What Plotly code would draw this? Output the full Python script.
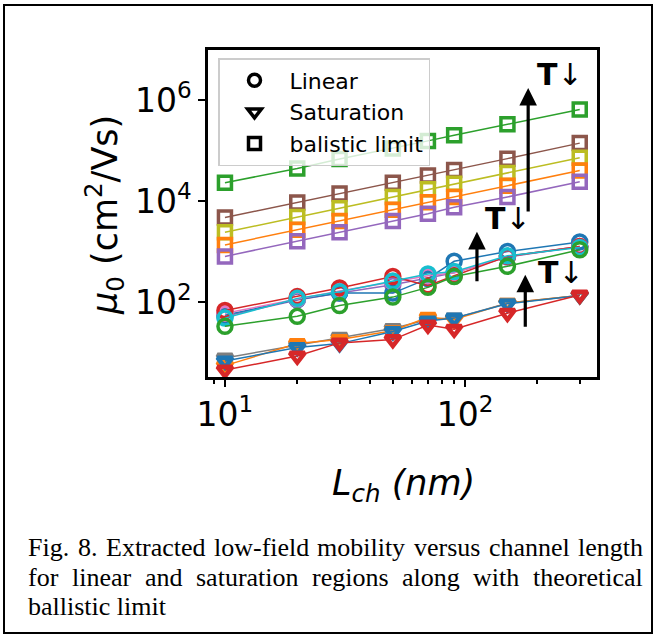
import math
import plotly.graph_objects as go

# ---------------- data ----------------
L_ch = [10, 20, 30, 50, 70, 90, 150, 300]

# ballistic limit (squares)
ball_green = [2.3e4, 4.4e4, 6.8e4, 1.1e5, 1.55e5, 2.0e5, 3.3e5, 6.5e5]
ball_brown = [4.7e3, 9.3e3, 1.4e4, 2.3e4, 3.2e4, 4.1e4, 6.9e4, 1.4e5]
ball_olive = [2.4e3, 4.8e3, 7.2e3, 1.2e4, 1.7e4, 2.2e4, 3.6e4, 7.2e4]
ball_orange = [1.35e3, 2.7e3, 4.0e3, 6.7e3, 9.4e3, 1.2e4, 2.0e4, 4.0e4]
ball_purple = [8.0e2, 1.6e3, 2.4e3, 4.0e3, 5.6e3, 7.5e3, 1.2e4, 2.4e4]

# linear region (circles)
lin_purple = [52, 110, 150, 220, 300, 380, 780, 1250]
lin_blue = [55, 112, 150, 150, 290, 640, 1000, 1550]
lin_pink = [60, 115, 165, 250, 330, 380, 800, 1250]
lin_red = [68, 128, 190, 320, 210, 330, 800, 1250]
lin_cyan = [48, 118, 160, 260, 360, 400, 820, 1200]
lin_green = [33, 52, 85, 125, 195, 320, 510, 1080]

# saturation region (triangles)
sat_gray = [7.8, 14, 20, 30, 45, 48, 95, 135]
sat_orange = [5.5, 15, 18, 27, 50, 45, 95, 135]
sat_blue = [6.8, 12.5, 15, 26, 42, 48, 92, 135]
sat_red = [4.5, 8.5, 15.5, 18, 35, 29, 60, 138]

legend_labels = ["Linear", "Saturation", "balistic limit"]
x_tick_vals = [10, 100]
x_tick_text = ["10<sup>1</sup>", "10<sup>2</sup>"]
y_tick_vals = [1e2, 1e4, 1e6]
y_tick_text = ["10<sup>2</sup>", "10<sup>4</sup>", "10<sup>6</sup>"]
x_minor = [9, 20, 30, 40, 50, 60, 70, 80, 90, 200, 300]

caption_line1 = "Fig. 8. Extracted low-field mobility versus channel length"
caption_line2 = "for linear and saturation regions along with theoretical"
caption_line3 = "ballistic limit"

C = dict(blue="#1f77b4", orange="#ff7f0e", green="#2ca02c", red="#d62728",
         purple="#9467bd", brown="#8c564b", pink="#e377c2", gray="#7f7f7f",
         olive="#bcbd22", cyan="#17becf")

# ---------------- geometry ----------------
W, H = 656, 637
PL, PR, PT, PB = 208, 597, 50, 377


def px(xp):
    return (xp - PL) / (PR - PL)


def py(yp):
    return (PB - yp) / (PB - PT)


fig = go.Figure()


def add(vals, color, symbol, size, lw):
    fig.add_trace(go.Scatter(
        x=L_ch, y=vals, mode="lines+markers", showlegend=False,
        line=dict(color=color, width=1.5),
        marker=dict(symbol=symbol, size=size, color=color,
                    line=dict(color=color, width=lw)),
    ))


for v, c in [(ball_green, "green"), (ball_brown, "brown"), (ball_olive, "olive"),
             (ball_orange, "orange"), (ball_purple, "purple")]:
    add(v, C[c], "square-open", 13, 3.5)

for v, c in [(sat_gray, "gray"), (sat_orange, "orange"), (sat_blue, "blue"), (sat_red, "red")]:
    add(v, C[c], "triangle-down-open", 13, 4.5)

for v, c in [(lin_purple, "purple"), (lin_blue, "blue"), (lin_pink, "pink"),
             (lin_red, "red"), (lin_cyan, "cyan"), (lin_green, "green")]:
    add(v, C[c], "circle-open", 14, 3.5)

# legend entries
for lab, sym in zip(legend_labels, ["circle-open", "triangle-down-open", "square-open"]):
    fig.add_trace(go.Scatter(
        x=[None], y=[None], mode="markers", name=lab,
        marker=dict(symbol=sym, size=12, color="black", line=dict(color="black", width=3.5)),
    ))

ann = []
# arrows (data coords, log10 for log axes)
arrows = [
    (183, 10 ** 6.24, 183, 10 ** 3.76),
    (112, 10 ** 3.39, 112, 10 ** 2.38),
    (178, 10 ** 2.54, 178, 10 ** 1.48),
]
for xh, yh, xt, yt in arrows:
    ann.append(dict(x=math.log10(xh), y=math.log10(yh), ax=math.log10(xt), ay=math.log10(yt),
                    xref="x", yref="y", axref="x", ayref="y", showarrow=True,
                    arrowhead=2, arrowsize=1.1, arrowwidth=3.2, arrowcolor="black", text=""))

for xv, yv in [(248, 10 ** 6.5), (151, 10 ** 3.66), (251, 10 ** 2.59)]:
    ann.append(dict(x=math.log10(xv), y=math.log10(yv), xref="x", yref="y", showarrow=False,
                    xanchor="center", yanchor="middle",
                    text="<b>T</b>↓", font=dict(family="DejaVu Sans", size=30, color="black")))

# axis titles
ann.append(dict(x=px(104), y=py(215), xref="paper", yref="paper", showarrow=False,
                xanchor="center", yanchor="middle",
                textangle=-90, text="<i>μ</i><sub>0</sub> (cm<sup>2</sup>/Vs)",
                font=dict(family="DejaVu Sans", size=35, color="black")))
ann.append(dict(x=px(403), y=py(485), xref="paper", yref="paper", showarrow=False,
                xanchor="center", yanchor="middle",
                text="<i>L</i><sub><i>ch</i></sub> <i>(nm)</i>",
                font=dict(family="DejaVu Sans", size=35, color="black")))

# caption (justified between x=26 and x=641 using Times metrics)
TW = {'a': 444, 'b': 500, 'c': 444, 'd': 500, 'e': 444, 'f': 333, 'g': 500, 'h': 500,
      'i': 278, 'j': 278, 'k': 500, 'l': 278, 'm': 778, 'n': 500, 'o': 500, 'p': 500,
      'q': 500, 'r': 333, 's': 389, 't': 278, 'u': 500, 'v': 500, 'w': 722, 'x': 500,
      'y': 500, 'z': 444, 'F': 556, 'E': 611, '.': 250, '-': 333, '8': 500}
CAP_SIZE = 26
cap_font = dict(family="Liberation Serif", size=CAP_SIZE, color="black")
X0, X1 = 26, 641


def justified(line, yp):
    words = line.split(" ")
    widths = [sum(TW.get(ch, 500) for ch in w) / 1000 * CAP_SIZE for w in words]
    gap = (X1 - X0 - sum(widths)) / (len(words) - 1)
    x = X0
    for w, wd in zip(words, widths):
        ann.append(dict(x=px(x), y=py(yp), xref="paper", yref="paper", showarrow=False,
                        xanchor="left", yanchor="middle", text=w, font=cap_font))
        x += wd + gap


justified(caption_line1, 547)
justified(caption_line2, 577)
ann.append(dict(x=px(X0), y=py(606), xref="paper", yref="paper", showarrow=False,
                xanchor="left", yanchor="middle", text=caption_line3, font=cap_font))

shapes = [dict(type="rect", xref="paper", yref="paper",
               x0=px(4), x1=px(652), y0=py(633), y1=py(5),
               line=dict(color="black", width=2))]

axis_common = dict(type="log", showgrid=False, zeroline=False, showline=True,
                   linecolor="black", linewidth=2.5, mirror=True,
                   ticks="outside", ticklen=7, tickwidth=2, tickcolor="black",
                   tickfont=dict(family="DejaVu Sans", size=33, color="black"))

fig.update_layout(
    width=W, height=H, autosize=False,
    margin=dict(l=PL, r=W - PR, t=PT, b=H - PB),
    paper_bgcolor="white", plot_bgcolor="white",
    xaxis=dict(range=[math.log10(8.5), math.log10(354)], tickvals=x_tick_vals,
               ticktext=x_tick_text,
               minor=dict(tickvals=x_minor, ticks="outside", ticklen=4, tickwidth=1.5,
                          tickcolor="black", showgrid=False),
               **axis_common),
    yaxis=dict(range=[0.515, 6.99], tickvals=y_tick_vals, ticktext=y_tick_text,
               **axis_common),
    legend=dict(x=px(218), y=py(58), xanchor="left", yanchor="top",
                bgcolor="rgba(255,255,255,0.8)", bordercolor="#cccccc", borderwidth=1.5,
                font=dict(family="DejaVu Sans", size=22, color="black"),
                itemsizing="trace", itemwidth=60, tracegroupgap=0),
    annotations=ann, shapes=shapes,
)

fig.write_html("out.html")
